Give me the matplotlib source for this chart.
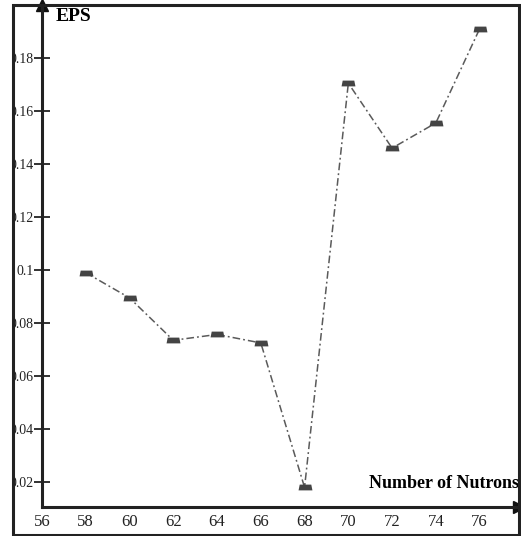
import matplotlib.pyplot as plt
from matplotlib.patches import Rectangle

# data
neutrons = [58, 60, 62, 64, 66, 68, 70, 72, 74, 76]
eps = [0.099, 0.0895, 0.0735, 0.0757, 0.0725, 0.018, 0.1705, 0.146, 0.1555, 0.191]
x_ticks = [56, 58, 60, 62, 64, 66, 68, 70, 72, 74, 76]
y_ticks = [0.02, 0.04, 0.06, 0.08, 0.1, 0.12, 0.14, 0.16, 0.18]
y_labels = ["0.02", "0.04", "0.06", "0.08", "0.1", "0.12", "0.14", "0.16", "0.18"]

plt.rcParams['font.family'] = ['Liberation Serif', 'DejaVu Serif']

W, H = 521, 536
fig = plt.figure(figsize=(W / 100, H / 100), dpi=100)
ax = fig.add_axes([42 / W, 1 - 507 / H, (519 - 42) / W, (507 - 5) / H])

ax.plot(neutrons, eps, color='#5a5a5a', lw=1.1, dashes=[5, 2, 1.2, 2], zorder=2)
# flat bar markers
bar = [(-1.2, -0.5), (1.2, -0.5), (1.0, 0.5), (-1.0, 0.5)]
ax.plot(neutrons, eps, ls='none', marker=bar, ms=10, color='#444444',
        markeredgewidth=0, zorder=3)

ax.set_xlim(56, 77.8)
ax.set_ylim(0.0106, 0.2)

for s in ['top', 'right']:
    ax.spines[s].set_visible(False)
for s in ['left', 'bottom']:
    ax.spines[s].set_linewidth(2.2)
    ax.spines[s].set_color('#222222')

ax.set_xticks(x_ticks)
ax.set_xticklabels([str(v) for v in x_ticks], fontsize=12)
ax.set_yticks(y_ticks)
ax.set_yticklabels(y_labels, fontsize=10)
ax.tick_params(axis='x', length=0, pad=5, colors='#222222')
ax.tick_params(axis='y', direction='inout', length=11, width=1.3, pad=0.5, colors='#222222')

# axis arrows
ax.plot(1.0, 0, '>', color='#111111', ms=8, transform=ax.transAxes, clip_on=False)
ax.plot(0, 1.0, '^', color='#111111', ms=8, transform=ax.transAxes, clip_on=False)

ax.text(0.028, 0.995, 'EPS', transform=ax.transAxes, fontsize=14, fontweight='bold',
        va='top', ha='left')
ax.text(0.999, 0.03, 'Number of Nutrons', transform=ax.transAxes, fontsize=13,
        fontweight='bold', va='bottom', ha='right')

# the labels are cut off by the frame on the left
fig.patches.append(Rectangle((0, 0), 13 / W, 1, transform=fig.transFigure,
                             color='white', zorder=5))
# outer frame
fig.patches.append(Rectangle((13 / W, 1 - 535 / H), (519 - 13) / W, (535 - 5) / H,
                             transform=fig.transFigure, fill=False, lw=2.2,
                             edgecolor='#222222', zorder=6))

fig.savefig('out.png', dpi=100)
